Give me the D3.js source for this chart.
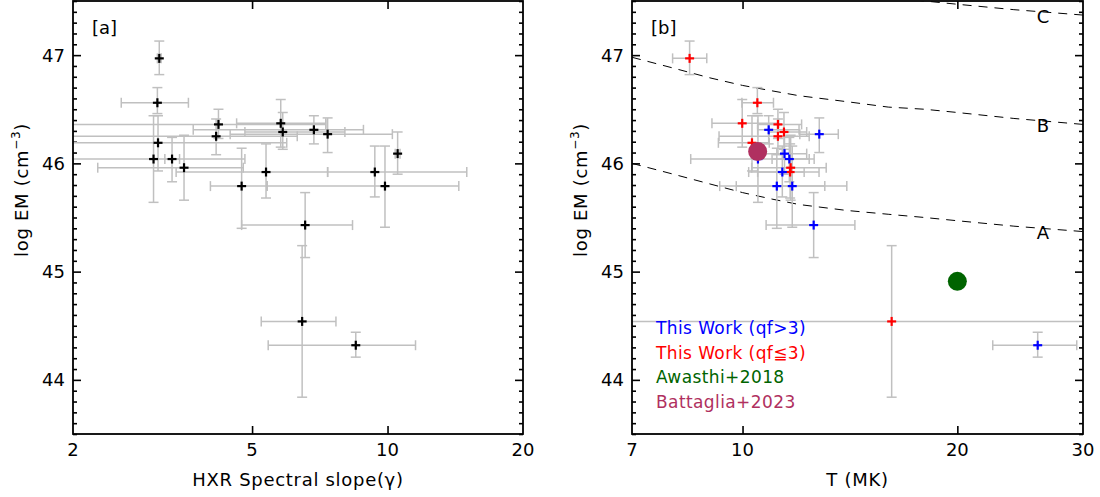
<!DOCTYPE html>
<html>
<head>
<meta charset="utf-8">
<script src="https://cdn.jsdelivr.net/npm/d3@7"></script>
<style>
  body { margin: 0; background: #fff; }
  svg text { font-family: "DejaVu Sans", sans-serif; }
</style>
</head>
<body>
<svg id="chart" width="1100" height="497"></svg>
<script>
// valores (20 eventos, mismo orden en ambos paneles)
const logEM   = [46.97, 46.56, 46.36, 46.25, 46.19, 46.04, 46.04, 45.96, 46.37, 46.29, 46.31, 46.27, 46.09, 45.92, 45.79, 45.92, 45.79, 45.43, 44.54, 44.32];
const logEMLo = [46.82, 46.46, 46.23, 46.08, 45.93, 45.64, 45.83, 45.66, 46.15, 46.13, 46.18, 46.10, 45.90, 45.68, 45.40, 45.69, 45.41, 45.13, 43.84, 44.21];
const logEMHi = [47.13, 46.70, 46.50, 46.41, 46.44, 46.44, 46.24, 46.26, 46.59, 46.47, 46.44, 46.42, 46.29, 46.18, 46.14, 46.16, 46.16, 45.73, 45.24, 44.44];

const gamma   = [3.11, 3.08, 4.21, 4.16, 3.09, 3.02, 3.32, 3.53, 5.79, 5.85, 6.86, 7.36, 10.53, 5.37, 4.74, 9.37, 9.87, 6.56, 6.46, 8.50];
const gammaLo = [3.08, 2.56, 1.50, 1.50, 1.50, 1.50, 3.20, 2.27, 4.62, 4.82, 3.70, 4.47, 10.40, 3.39, 4.04, 7.36, 5.40, 4.74, 5.24, 5.43];
const gammaHi = [3.14, 3.61, 7.29, 6.30, 5.97, 4.82, 3.45, 4.78, 7.29, 8.04, 8.84, 10.25, 10.66, 7.36, 5.40, 15.0, 14.4, 8.36, 7.68, 11.54];

const temp    = [8.43, 10.49, 11.21, 11.21, 10.31, 10.51, 11.63, 11.68, 9.99, 11.43, 10.88, 12.81, 11.45, 11.66, 11.17, 11.37, 11.74, 12.58, 16.18, 25.92];
const tempLo  = [7.98, 9.98, 10.5, 9.27, 9.25, 8.46, 11.0, 10.3, 9.06, 10.9, 10.5, 12.03, 10.7, 10.5, 9.29, 10.2, 9.8, 10.79, 4.0, 22.42];
const tempHi  = [8.91, 11.05, 12.1, 12.4, 10.9, 12.6, 12.4, 13.1, 11.24, 12.3, 12.0, 13.62, 12.3, 12.2, 13.04, 12.8, 14.0, 14.37, 60.0, 29.4];
// true = qf>3 (azul), false = qf<=3 (rojo)
const qfHigh  = [false, false, false, false, false, true, true, false, false, false, true, true, true, false, true, true, true, true, false, true];

// otros trabajos
const refNames = ["Awasthi+2018", "Battaglia+2023"];
const refT     = [20.0, 10.5];
const refEM    = [44.91, 46.11];
const refColor = ["#006400", "#b03060"];

// curvas A, B, C (punteadas)
const curveT  = [7, 8, 9, 10, 11, 12, 14, 16, 18, 20, 24, 30];
const curveA  = [46.00, 45.90, 45.81, 45.73, 45.67, 45.62, 45.565, 45.53, 45.50, 45.47, 45.42, 45.37];
const curveB  = [46.98, 46.88, 46.79, 46.72, 46.67, 46.625, 46.57, 46.52, 46.50, 46.47, 46.415, 46.36];
const curveC  = [47.98, 47.88, 47.79, 47.72, 47.67, 47.625, 47.57, 47.53, 47.50, 47.47, 47.42, 47.37];

const yTicks = [44, 45, 46, 47];
const yMinor = d3.range(43.5, 47.51, 0.1).map(v => +v.toFixed(1)).filter(v => !yTicks.includes(v));

const svg = d3.select("#chart");
const plotTop = 1, plotBottom = 434;
const y = d3.scaleLinear().domain([43.5, 47.5]).range([plotBottom, plotTop]);

const grey = "#c0c0c0";

function panel(id, x0, x1, xDomain, xTicks, xTitle, label) {
  const x = d3.scaleLog().domain(xDomain).range([x0, x1]);
  const g = svg.append("g");

  g.append("clipPath").attr("id", "clip" + id)
    .append("rect").attr("x", x0).attr("y", plotTop).attr("width", x1 - x0).attr("height", plotBottom - plotTop);

  // ejes
  const axes = [
    [d3.axisBottom(x).tickValues(xTicks.slice(1, -1)).tickSize(-8).tickFormat(""), `translate(0,${plotBottom})`],
    [d3.axisTop(x).tickValues(xTicks.slice(1, -1)).tickSize(-8).tickFormat(""), `translate(0,${plotTop})`],
    [d3.axisLeft(y).tickValues(yTicks).tickSize(-8).tickFormat(""), `translate(${x0},0)`],
    [d3.axisLeft(y).tickValues(yMinor).tickSize(-4).tickFormat(""), `translate(${x0},0)`],
    [d3.axisRight(y).tickValues(yTicks).tickSize(-8).tickFormat(""), `translate(${x1},0)`],
    [d3.axisRight(y).tickValues(yMinor).tickSize(-4).tickFormat(""), `translate(${x1},0)`]
  ];
  axes.forEach(([ax, tr]) => {
    const a = g.append("g").attr("transform", tr).call(ax);
    a.select(".domain").remove();
    a.selectAll("line").attr("stroke", "#000").attr("stroke-width", 1.6);
  });

  g.selectAll(".xl").data(xTicks).enter().append("text")
    .attr("x", d => x(d)).attr("y", 456).attr("text-anchor", "middle")
    .attr("font-size", 18).text(d => d);
  g.selectAll(".yl").data(yTicks).enter().append("text")
    .attr("x", x0 - 8).attr("y", d => y(d) + 6.5).attr("text-anchor", "end")
    .attr("font-size", 18).text(d => d);

  g.append("text").attr("x", (x0 + x1) / 2).attr("y", 486).attr("text-anchor", "middle")
    .attr("font-size", 18).attr("letter-spacing", 0.7).text(xTitle);
  const yt = g.append("text").attr("transform", `translate(${x0 - 45},190) rotate(-90)`)
    .attr("text-anchor", "middle").attr("font-size", 18).attr("letter-spacing", 0.7);
  yt.append("tspan").text("log EM (cm");
  yt.append("tspan").attr("font-size", 12).attr("dy", -8).text("\u22123");
  yt.append("tspan").attr("dy", 8).text(")");

  g.append("text").attr("x", x0 + 19).attr("y", 34).attr("font-size", 18).text(label);

  const plot = g.append("g").attr("clip-path", `url(#clip${id})`);
  return { x, g, plot, x0, x1 };
}

function errorBars(plot, x, xv, xlo, xhi) {
  const cap = 5;
  const eb = plot.append("g").attr("stroke", grey).attr("stroke-width", 1.5).attr("fill", "none");
  logEM.forEach((v, i) => {
    const cx = x(xv[i]), cy = y(v);
    // horizontal
    eb.append("line").attr("x1", x(xlo[i])).attr("x2", x(xhi[i])).attr("y1", cy).attr("y2", cy);
    eb.append("line").attr("x1", x(xlo[i])).attr("x2", x(xlo[i])).attr("y1", cy - cap).attr("y2", cy + cap);
    eb.append("line").attr("x1", x(xhi[i])).attr("x2", x(xhi[i])).attr("y1", cy - cap).attr("y2", cy + cap);
    // vertical
    eb.append("line").attr("x1", cx).attr("x2", cx).attr("y1", y(logEMLo[i])).attr("y2", y(logEMHi[i]));
    eb.append("line").attr("x1", cx - cap).attr("x2", cx + cap).attr("y1", y(logEMLo[i])).attr("y2", y(logEMLo[i]));
    eb.append("line").attr("x1", cx - cap).attr("x2", cx + cap).attr("y1", y(logEMHi[i])).attr("y2", y(logEMHi[i]));
  });
}

function pluses(plot, x, xv, colorFn) {
  const s = 4.5;
  logEM.forEach((v, i) => {
    const cx = x(xv[i]), cy = y(v);
    const p = plot.append("g").attr("stroke", colorFn(i)).attr("stroke-width", 2.2);
    p.append("line").attr("x1", cx - s).attr("x2", cx + s).attr("y1", cy).attr("y2", cy);
    p.append("line").attr("x1", cx).attr("x2", cx).attr("y1", cy - s).attr("y2", cy + s);
  });
}

// Panel a
const pa = panel("a", 73, 523, [2, 20], [2, 5, 10, 20], "HXR Spectral slope(\u03b3)", "[a]");
errorBars(pa.plot, pa.x, gamma, gammaLo, gammaHi);
pluses(pa.plot, pa.x, gamma, () => "#000");

// Panel b
const pb = panel("b", 632, 1083, [7, 30], [7, 10, 20, 30], "T (MK)", "[b]");
const line = d3.line().x((d, i) => pb.x(curveT[i])).y(d => y(d));
[curveA, curveB, curveC].forEach(c => {
  pb.plot.append("path").datum(c).attr("d", line)
    .attr("fill", "none").attr("stroke", "#000").attr("stroke-width", 1).attr("stroke-dasharray", "9,7");
});
[["A", curveA], ["B", curveB], ["C", curveC]].forEach(([name, c]) => {
  pb.g.append("text").attr("x", 1043).attr("y", y(c[c.length - 1]) + 7.5).attr("text-anchor", "middle")
    .attr("font-size", 18).attr("fill", "#000").text(name);
});
errorBars(pb.plot, pb.x, temp, tempLo, tempHi);
pluses(pb.plot, pb.x, temp, i => qfHigh[i] ? "#0000ff" : "#ff0000");

pb.plot.selectAll(".ref").data(refT).enter().append("circle")
  .attr("cx", d => pb.x(d)).attr("cy", (d, i) => y(refEM[i])).attr("r", 9.5)
  .attr("fill", (d, i) => refColor[i]);

const legendItems = [
  ["This Work (qf>3)", "#0000ff"],
  ["This Work (qf\u22663)", "#ff0000"],
  [refNames[0], refColor[0]],
  [refNames[1], refColor[1]]
];
pb.g.selectAll(".leg").data(legendItems).enter().append("text")
  .attr("x", 656).attr("y", (d, i) => 334 + i * 24.5)
  .attr("font-size", 17).attr("letter-spacing", 0.4).attr("fill", d => d[1]).text(d => d[0]);

// marcos
[pa, pb].forEach(p => {
  svg.append("rect").attr("x", p.x0).attr("y", plotTop).attr("width", p.x1 - p.x0).attr("height", plotBottom - plotTop)
    .attr("fill", "none").attr("stroke", "#000").attr("stroke-width", 1.8);
});
</script>
</body>
</html>
